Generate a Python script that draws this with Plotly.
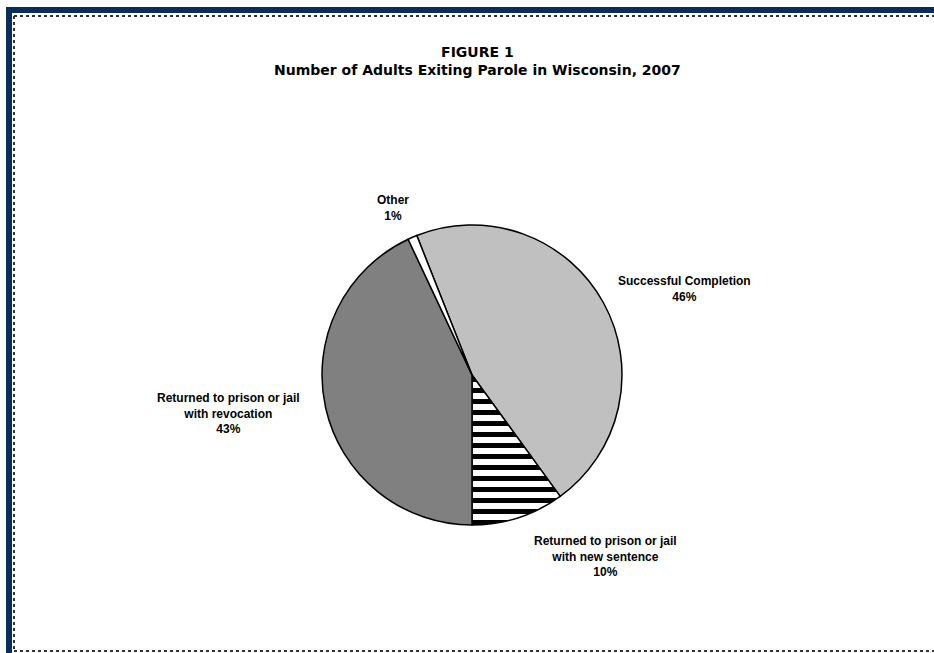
import plotly.graph_objects as go

# Parole exit outcomes, Wisconsin 2007 (percent of adults exiting parole)
categories = [
    "Successful Completion",
    "Returned to prison or jail with new sentence",
    "Returned to prison or jail with revocation",
    "Other",
]
shares = [46, 10, 43, 1]
slice_colors = ["#c0c0c0", "#ffffff", "#808080", "#ffffff"]
slice_patterns = ["", "-", "", ""]

# Label text drawn beside each slice
label_lines = [
    ["Successful Completion", "46%"],
    ["Returned to prison or jail", "with new sentence", "10%"],
    ["Returned to prison or jail", "with revocation", "43%"],
    ["Other", "1%"],
]
# label centres (pixel coords, top-left origin)
label_pos = [(684, 289), (605, 556), (228, 413), (393, 208)]

W, H = 934, 653
cx, cy, r = 472, 375, 150

fig = go.Figure()
fig.add_trace(go.Pie(
    labels=categories,
    values=shares,
    sort=False,
    direction="clockwise",
    rotation=-21.6,
    textinfo="none",
    hoverinfo="label+percent",
    marker=dict(
        colors=slice_colors,
        line=dict(color="#000000", width=1.5),
        pattern=dict(shape=slice_patterns, fgcolor="#000000", bgcolor="#ffffff",
                     fgopacity=1, size=11, solidity=0.45, fillmode="replace"),
    ),
    domain=dict(x=[(cx - r) / W, (cx + r) / W], y=[1 - (cy + r) / H, 1 - (cy - r) / H]),
    showlegend=False,
))

font_lbl = dict(family="Liberation Sans, Arial", size=12, color="#000000")
annotations = []
for lines, (px, py) in zip(label_lines, label_pos):
    annotations.append(dict(
        x=px / W, y=1 - py / H, xref="paper", yref="paper",
        text="<br>".join(f"<b>{t}</b>" for t in lines),
        showarrow=False, align="center", xanchor="center", yanchor="middle",
        font=font_lbl,
    ))

# Title
annotations.append(dict(
    x=477 / W, y=1 - 61 / H, xref="paper", yref="paper",
    text="<b>FIGURE 1</b><br><b>Number of Adults Exiting Parole in Wisconsin, 2007</b>",
    showarrow=False, align="center", xanchor="center", yanchor="middle",
    font=dict(family="DejaVu Sans", size=14, color="#000000"),
))

navy = "#0b2d5c"
shapes = [
    # navy frame bands (top and left)
    dict(type="rect", xref="paper", yref="paper", x0=6 / W, x1=1, y0=1 - 13 / H, y1=1 - 7 / H,
         line=dict(width=0), fillcolor=navy),
    dict(type="rect", xref="paper", yref="paper", x0=6 / W, x1=12 / W, y0=0, y1=1 - 7 / H,
         line=dict(width=0), fillcolor=navy),
    # dotted chart-area border
    dict(type="line", xref="paper", yref="paper", x0=14 / W, x1=1, y0=1 - 16 / H, y1=1 - 16 / H,
         line=dict(color="#333333", width=2, dash="dot")),
    dict(type="line", xref="paper", yref="paper", x0=14 / W, x1=14 / W, y0=1 - 16 / H, y1=1 - 651 / H,
         line=dict(color="#333333", width=2, dash="dot")),
    dict(type="line", xref="paper", yref="paper", x0=14 / W, x1=1, y0=1 - 651 / H, y1=1 - 651 / H,
         line=dict(color="#333333", width=2, dash="dot")),
]

fig.update_layout(
    width=W, height=H,
    margin=dict(l=0, r=0, t=0, b=0),
    paper_bgcolor="#ffffff",
    plot_bgcolor="#ffffff",
    annotations=annotations,
    shapes=shapes,
)

fig.write_html("out.html")
